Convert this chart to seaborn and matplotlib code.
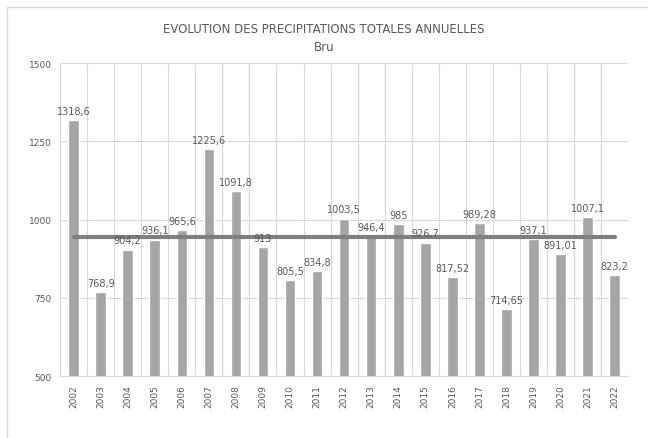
import seaborn as sns
import matplotlib.pyplot as plt
import pandas as pd
import numpy as np
from matplotlib.patches import Rectangle

years = [str(y) for y in range(2002, 2023)]
precip = [1318.6, 768.9, 904.2, 936.1, 965.6, 1225.6, 1091.8, 913, 805.5, 834.8,
          1003.5, 946.4, 985, 926.7, 817.52, 989.28, 714.65, 937.1, 891.01, 1007.1, 823.2]
yticks = [500, 750, 1000, 1250, 1500]

df = pd.DataFrame({"annee": years, "precip": precip})
mean_val = np.mean(precip)

sns.set_style("white")
plt.rcParams['font.family'] = ['DejaVu Sans']

fig = plt.figure(figsize=(6.48, 4.39), dpi=100)
ax = fig.add_axes([0.0926, 0.141, 0.877, 0.713])

# light frame around the whole chart (runs off right/bottom edges)
fig.patches.append(Rectangle((0.011, -0.01), 1.0, 0.992, transform=fig.transFigure,
                             fill=False, edgecolor="#d9d9d9", linewidth=1))

sns.barplot(data=df, x="annee", y="precip", color="#a5a5a5", width=0.39,
            saturation=1, ax=ax, zorder=2)

ax.bar_label(ax.containers[0], labels=[f"{v:g}".replace(".", ",") for v in precip],
             padding=3, fontsize=7, color="#595959", zorder=4)

# mean line
ax.plot([0, len(years) - 1], [mean_val, mean_val], color="#7f7f7f", lw=3, zorder=3)

ax.set_ylim(500, 1500)
ax.set_xlim(-0.5, len(years) - 0.5)
ax.set_yticks(yticks)
ax.set_yticklabels([str(t) for t in yticks], fontsize=6.5, color="#595959")
ax.set_xticks(range(len(years)))
ax.set_xticklabels(years, rotation=90, fontsize=6.5, color="#595959")
ax.set_xticks(np.arange(-0.5, len(years), 1), minor=True)
ax.tick_params(axis="both", length=0, pad=6)
ax.tick_params(axis="x", which="minor", length=0)

ax.grid(axis="y", which="major", color="#d9d9d9", lw=0.8, zorder=0)
ax.grid(axis="x", which="minor", color="#d9d9d9", lw=0.8, zorder=0)
ax.set_axisbelow(True)
for s in ["top", "right", "left"]:
    ax.spines[s].set_visible(False)
ax.spines["bottom"].set_color("#d9d9d9")
ax.set_xlabel("")
ax.set_ylabel("")

fig.text(0.5, 0.932, "EVOLUTION DES PRECIPITATIONS TOTALES ANNUELLES", ha="center",
         va="center", fontsize=8.5, color="#595959")
fig.text(0.5, 0.891, "Bru", ha="center", va="center", fontsize=8.5, color="#595959")

fig.savefig("out.png", dpi=100)
